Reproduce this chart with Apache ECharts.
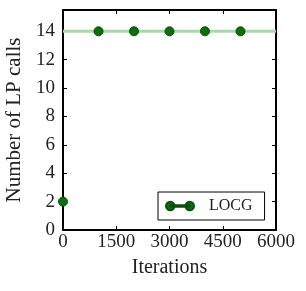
<!DOCTYPE html>
<html><head><meta charset="utf-8">
<script src="https://cdn.jsdelivr.net/npm/echarts@6/dist/echarts.min.js"></script>
<style>html,body{margin:0;padding:0;background:#fff}#c{width:306px;height:291px}</style>
</head><body><div id="c"></div>
<script>
const iterations = [0, 1000, 2000, 3000, 4000, 5000];
const lpCalls = [2, 14, 14, 14, 14, 14];
const refLevel = 14;
const refSpan = [0, 6000];
const xTicks = [0, 1500, 3000, 4500, 6000];
const yTicks = [0, 2, 4, 6, 8, 10, 12, 14];
const seriesName = 'LOCG';

const font = 'Liberation Serif';
const chart = echarts.init(document.getElementById('c'));
const axisLine = {show: true, onZero: false, lineStyle: {color: '#000', width: 2}};
const tick = {show: true, inside: true, length: 4, lineStyle: {color: '#000', width: 1}};
chart.setOption({
  animation: false,
  grid: {left: 63, right: 30, top: 10, bottom: 61, outerBoundsMode: 'none', containLabel: false},
  legend: {
    left: 158, top: 192,
    data: [{name: seriesName, icon: 'path://M0,6a5,5 0 1,0 10,0a5,5 0 1,0 -10,0Z M23,6a5,5 0 1,0 10,0a5,5 0 1,0 -10,0Z M5,5.2h23v1.6h-23Z'}],
    itemWidth: 28, itemHeight: 9, itemGap: 6,
    padding: [6, 12, 6, 7],
    borderColor: '#000', borderWidth: 1, borderRadius: 0,
    textStyle: {fontFamily: font, fontSize: 16, color: '#222', padding: [0, 0, 0, 10]}
  },
  xAxis: [{
    type: 'value', min: xTicks[0], max: xTicks[xTicks.length - 1], interval: 1500,
    name: 'Iterations', nameLocation: 'middle', nameGap: 28,
    nameTextStyle: {fontFamily: font, fontSize: 20, color: '#222'},
    axisLine: axisLine, axisTick: tick, splitLine: {show: false},
    axisLabel: {fontFamily: font, fontSize: 19, color: '#222', margin: 3, formatter: v => String(v)}
  }, {
    type: 'value', position: 'top', min: xTicks[0], max: xTicks[xTicks.length - 1], interval: 1500,
    axisLine: axisLine, axisTick: tick, axisLabel: {show: false}, splitLine: {show: false}
  }],
  yAxis: [{
    type: 'value', min: 0, max: 15.5, interval: 2,
    name: 'Number of LP calls', nameLocation: 'middle', nameGap: 35,
    nameTextStyle: {fontFamily: font, fontSize: 21, color: '#222'},
    axisLine: axisLine, axisTick: tick, splitLine: {show: false},
    axisLabel: {fontFamily: font, fontSize: 19, color: '#222', margin: 8, showMaxLabel: false,
      formatter: v => yTicks.includes(v) ? String(v) : ''}
  }, {
    type: 'value', position: 'right', min: 0, max: 15.5, interval: 2,
    axisLine: axisLine, axisTick: tick, axisLabel: {show: false}, splitLine: {show: false}
  }],
  series: [{
    type: 'line', name: 'ref', silent: true,
    data: refSpan.map(x => [x, refLevel]),
    symbol: 'none', lineStyle: {color: '#a8d8a8', width: 3}, z: 1
  }, {
    type: 'line', name: seriesName,
    data: iterations.map((x, i) => [x, lpCalls[i]]),
    symbol: 'circle', symbolSize: 9,
    lineStyle: {width: 0, opacity: 0},
    itemStyle: {color: '#0a700a', borderColor: '#0b4d0b', borderWidth: 1},
    z: 3
  }]
});
</script></body></html>
